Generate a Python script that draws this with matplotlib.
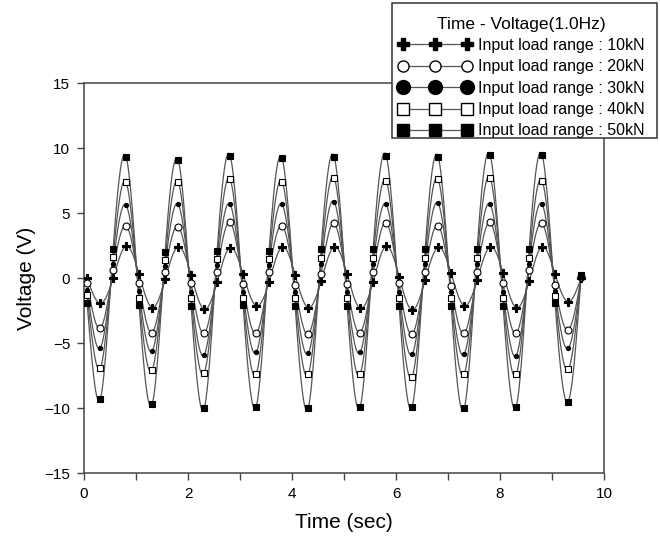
import numpy as np
import matplotlib
matplotlib.use("Agg")
import matplotlib.pyplot as plt
from matplotlib.lines import Line2D
from matplotlib.patches import Rectangle
from matplotlib.ticker import MultipleLocator

plt.rcParams['font.family'] = ['Liberation Sans', 'DejaVu Sans']

# sample times (sec)
time = [0.06, 0.31, 0.56, 0.81, 1.06, 1.31, 1.56, 1.81, 2.06, 2.31,
        2.56, 2.81, 3.06, 3.31, 3.56, 3.81, 4.06, 4.31, 4.56, 4.81,
        5.06, 5.31, 5.56, 5.81, 6.06, 6.31, 6.56, 6.81, 7.06, 7.31,
        7.56, 7.81, 8.06, 8.31, 8.56, 8.81, 9.06, 9.31, 9.56]

# voltage (V) per input load range
v10 = [0.0, -1.95, 0.0, 2.46, 0.28, -2.28, -0.1, 2.4, 0.23, -2.41,
       -0.28, 2.33, 0.28, -2.13, -0.28, 2.41, 0.23, -2.28, -0.23, 2.41,
       0.28, -2.33, -0.28, 2.46, 0.1, -2.46, -0.15, 2.36, 0.36, -2.13,
       -0.15, 2.41, 0.36, -2.28, -0.23, 2.41, 0.28, -1.82, 0.0]
v20 = [-0.36, -3.87, 0.6, 4.0, -0.4, -4.2, 0.5, 3.95, -0.4, -4.26,
       0.49, 4.28, -0.49, -4.26, 0.44, 4.03, -0.54, -4.33, 0.3, 4.2,
       -0.49, -4.2, 0.44, 4.26, -0.4, -4.33, 0.44, 4.03, -0.59, -4.26,
       0.44, 4.28, -0.41, -4.26, 0.62, 4.2, -0.54, -4.0, 0.05]
v30 = [-0.9, -5.4, 1.1, 5.6, -1.0, -5.6, 0.95, 5.67, -1.05, -5.92,
       1.0, 5.67, -1.05, -5.72, 1.0, 5.67, -1.05, -5.8, 1.05, 5.87,
       -1.05, -5.72, 1.05, 5.67, -1.05, -5.87, 1.05, 5.74, -1.1, -5.87,
       1.05, 5.67, -1.05, -5.97, 1.1, 5.67, -1.0, -5.41, 0.1]
v40 = [-1.3, -6.95, 1.6, 7.36, -1.5, -7.1, 1.4, 7.4, -1.5, -7.33,
       1.5, 7.59, -1.5, -7.4, 1.5, 7.41, -1.5, -7.41, 1.55, 7.72,
       -1.5, -7.41, 1.55, 7.49, -1.5, -7.59, 1.55, 7.59, -1.5, -7.41,
       1.55, 7.72, -1.5, -7.41, 1.55, 7.49, -1.4, -7.03, 0.15]
v50 = [-1.95, -9.33, 2.23, 9.3, -2.08, -9.7, 1.97, 9.08, -2.13, -10.03,
       2.08, 9.41, -2.08, -9.9, 2.08, 9.2, -2.13, -10.0, 2.2, 9.33,
       -2.13, -9.9, 2.2, 9.41, -2.13, -9.9, 2.2, 9.33, -2.13, -10.03,
       2.2, 9.46, -2.13, -9.9, 2.2, 9.46, -1.95, -9.51, 0.23]

labels = ['Input load range : 10kN', 'Input load range : 20kN',
          'Input load range : 30kN', 'Input load range : 40kN',
          'Input load range : 50kN']


def natural_spline(x, y, n=2000):
    x = np.asarray(x, float)
    y = np.asarray(y, float)
    m = len(x)
    h = np.diff(x)
    A = np.zeros((m, m))
    b = np.zeros(m)
    A[0, 0] = A[-1, -1] = 1
    for i in range(1, m - 1):
        A[i, i - 1] = h[i - 1]
        A[i, i] = 2 * (h[i - 1] + h[i])
        A[i, i + 1] = h[i]
        b[i] = 6 * ((y[i + 1] - y[i]) / h[i] - (y[i] - y[i - 1]) / h[i - 1])
    M = np.linalg.solve(A, b)
    xs = np.linspace(x[0], x[-1], n)
    idx = np.clip(np.searchsorted(x, xs) - 1, 0, m - 2)
    x0, x1 = x[idx], x[idx + 1]
    hh = x1 - x0
    ys = (M[idx] * (x1 - xs) ** 3 / (6 * hh) + M[idx + 1] * (xs - x0) ** 3 / (6 * hh)
          + (y[idx] / hh - M[idx] * hh / 6) * (x1 - xs)
          + (y[idx + 1] / hh - M[idx + 1] * hh / 6) * (xs - x0))
    return xs, ys


series = [v10, v20, v30, v40, v50]
# marker styles on the chart / in the legend
styles = [
    dict(marker='P', mfc='black', ms=5.5, lms=8.5),
    dict(marker='o', mfc='white', ms=5, lms=8),
    dict(marker='o', mfc='black', ms=3, lms=10),
    dict(marker='s', mfc='white', ms=4, lms=8),
    dict(marker='s', mfc='black', ms=4.5, lms=9),
]
line_color = '#555555'

fig = plt.figure(figsize=(6.6, 5.36), dpi=100)
ax = fig.add_axes([0.1273, 0.1175, 0.7879, 0.7276])

for vals in series:
    xs, ys = natural_spline(time, vals)
    ax.plot(xs, ys, color=line_color, lw=0.9, zorder=2)
for vals, st in zip(series, styles):
    ax.plot(time, vals, ls='none', marker=st['marker'], mfc=st['mfc'],
            mec='black', mew=0.8, ms=st['ms'], zorder=3)

ax.set_xlim(0, 10)
ax.set_ylim(-15, 15)
ax.xaxis.set_major_locator(MultipleLocator(2))
ax.xaxis.set_minor_locator(MultipleLocator(1))
ax.yaxis.set_major_locator(MultipleLocator(5))
ax.tick_params(which='both', direction='out', length=5, width=1, color='#444444',
               labelsize=11, pad=5)
for s in ax.spines.values():
    s.set_color('#444444')
    s.set_linewidth(1.1)
ax.set_xlabel('Time (sec)', fontsize=15, labelpad=9)
ax.set_ylabel('Voltage (V)', fontsize=15, labelpad=6)

# legend box drawn separately so its frame matches the reference
fig.add_artist(Rectangle((392 / 660, 1 - 138 / 536), 265 / 660, 135 / 536,
                         transform=fig.transFigure, facecolor='white',
                         edgecolor='#333333', lw=1.1, zorder=4))

handles = [Line2D([], [], color=line_color, lw=0.9, marker=st['marker'],
                  mfc=st['mfc'], mec='black', mew=1, ms=st['lms'])
           for st in styles]
leg = fig.legend(handles, labels, loc='upper left', bbox_to_anchor=(392 / 660, 1 - 10 / 536),
                 title='Time - Voltage(1.0Hz)', fontsize=11.5, title_fontsize=12.5,
                 numpoints=3, handlelength=4.56, handletextpad=0.44, labelspacing=0.4,
                 borderpad=0.41, borderaxespad=0, frameon=False)
leg.set_zorder(5)

fig.savefig('out.png', dpi=100)
